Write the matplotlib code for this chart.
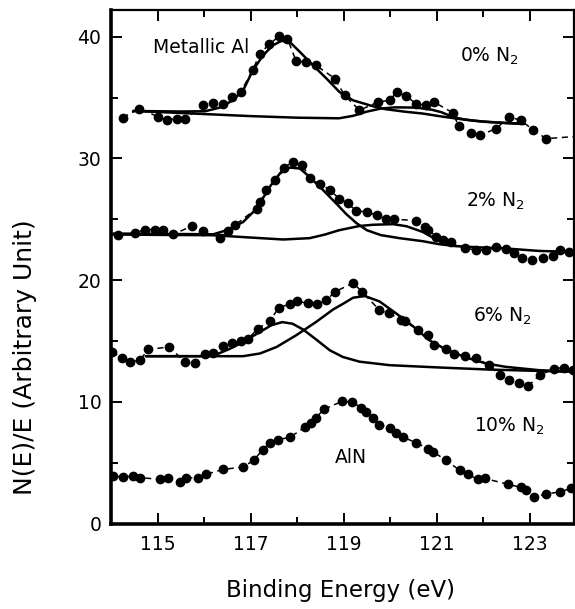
import matplotlib
matplotlib.use("Agg")
import matplotlib.pyplot as plt
from matplotlib.ticker import FixedLocator

# ---------------- data ----------------
# 0% N2
x0 = [114.25, 114.61, 115.02, 115.20, 115.41, 115.59, 115.97, 116.20, 116.41, 116.59,
      116.79, 117.05, 117.20, 117.40, 117.61, 117.79, 117.98, 118.18, 118.40, 118.81,
      119.02, 119.34, 119.74, 119.99, 120.14, 120.35, 120.55, 120.76, 120.94, 121.35,
      121.47, 121.74, 121.93, 122.28, 122.55, 122.81, 123.06, 123.35, 124.15]
y0 = [33.36, 34.10, 33.41, 33.14, 33.28, 33.22, 34.37, 34.56, 34.45, 35.05,
      35.47, 37.30, 38.62, 39.38, 40.04, 39.85, 37.99, 37.93, 37.66, 36.57,
      35.19, 33.96, 34.64, 34.78, 35.46, 35.11, 34.51, 34.37, 34.64, 33.74,
      32.65, 32.10, 31.90, 32.46, 33.41, 33.14, 32.37, 31.63, 31.85]

# 2% N2
x2 = [114.16, 114.52, 114.73, 114.94, 115.12, 115.34, 115.73, 115.98, 116.34, 116.52,
      116.66, 117.13, 117.20, 117.34, 117.52, 117.71, 117.91, 118.11, 118.27, 118.50,
      118.70, 118.91, 119.09, 119.27, 119.50, 119.72, 119.90, 120.08, 120.56, 120.74,
      120.82, 120.99, 121.13, 121.31, 121.60, 121.85, 122.06, 122.28, 122.49, 122.65,
      122.83, 123.04, 123.28, 123.49, 123.64, 123.85]
y2 = [23.69, 23.88, 24.16, 24.16, 24.10, 23.77, 24.43, 24.04, 23.50, 24.04,
      24.51, 25.88, 26.43, 27.39, 28.21, 29.25, 29.71, 29.44, 28.43, 27.94,
      27.39, 26.70, 26.30, 25.70, 25.60, 25.33, 25.02, 25.00, 24.90, 24.40,
      24.16, 23.55, 23.28, 23.14, 22.60, 22.50, 22.46, 22.70, 22.55, 22.19,
      21.84, 21.69, 21.84, 22.00, 22.46, 22.32]

# 6% N2
x6 = [114.02, 114.23, 114.41, 114.62, 114.80, 115.25, 115.59, 115.80, 116.02, 116.20,
      116.41, 116.59, 116.80, 116.95, 117.16, 117.41, 117.61, 117.84, 118.00, 118.23,
      118.43, 118.63, 118.81, 119.20, 119.40, 119.77, 119.97, 120.24, 120.31, 120.60,
      120.81, 120.95, 121.20, 121.38, 121.60, 121.85, 122.13, 122.35, 122.56, 122.76,
      122.96, 123.21, 123.53, 123.74, 123.92]
y6 = [14.10, 13.64, 13.28, 13.42, 14.30, 14.51, 13.28, 13.15, 13.91, 14.02,
      14.57, 14.84, 15.00, 15.20, 16.02, 16.65, 17.75, 18.02, 18.29, 18.08,
      18.02, 18.35, 19.03, 19.77, 19.03, 17.53, 17.26, 16.76, 16.65, 15.88,
      15.47, 14.65, 14.30, 13.97, 13.75, 13.56, 13.01, 12.20, 11.83, 11.55,
      11.28, 12.19, 12.73, 12.82, 12.65]

# 10% N2
x10 = [114.05, 114.26, 114.48, 114.62, 115.05, 115.23, 115.48, 115.62, 115.87, 116.05,
       116.41, 116.84, 117.07, 117.26, 117.41, 117.59, 117.84, 118.16, 118.29, 118.41,
       118.57, 118.97, 119.17, 119.38, 119.49, 119.63, 119.77, 120.00, 120.13, 120.27,
       120.56, 120.81, 120.92, 121.20, 121.49, 121.67, 121.88, 122.03, 122.53, 122.81,
       122.92, 123.08, 123.35, 123.64, 123.89]
y10 = [3.89, 3.83, 3.89, 3.78, 3.62, 3.70, 3.42, 3.75, 3.78, 4.05,
       4.44, 4.65, 5.20, 6.08, 6.62, 6.90, 7.07, 7.89, 8.22, 8.71,
       9.37, 10.05, 9.99, 9.53, 9.17, 8.71, 8.13, 7.81, 7.40, 7.12,
       6.62, 6.16, 5.89, 5.20, 4.38, 4.05, 3.62, 3.70, 3.23, 2.96,
       2.74, 2.19, 2.41, 2.60, 2.88]

# fitted components (baseline + peak)
f0a_x = [114.48, 115.0, 115.5, 116.02, 116.34, 116.62, 116.84, 117.05, 117.27, 117.48,
         117.66, 117.84, 118.06, 118.34, 118.63, 118.91, 119.2, 119.63, 119.9, 120.3,
         120.7, 121.1, 121.42, 121.8, 122.13, 122.5, 122.88]
f0a_y = [33.9, 33.88, 33.86, 33.88, 34.18, 34.78, 35.6, 37.25, 38.48, 39.3,
         39.66, 39.58, 38.75, 37.66, 36.57, 35.46, 34.78, 34.29, 34.05, 33.85,
         33.69, 33.45, 33.28, 33.1, 33.0, 32.92, 32.85]
f0b_x = [114.48, 115.0, 116.0, 117.0, 118.0, 118.9, 119.2, 119.5, 119.8, 120.1,
         120.56, 120.9, 121.1, 121.35, 121.6, 122.0, 122.5, 122.88]
f0b_y = [33.9, 33.82, 33.65, 33.48, 33.35, 33.3, 33.5, 33.85, 34.1, 34.2,
         34.18, 34.0, 33.8, 33.4, 33.2, 33.02, 32.9, 32.83]

f2a_x = [114.05, 115.0, 116.2, 116.48, 116.84, 117.13, 117.41, 117.63, 117.84, 118.06,
         118.27, 118.56, 118.84, 119.05, 119.27, 119.5, 119.8, 120.2, 120.7, 121.06,
         121.42, 122.0, 122.49, 123.2, 123.96]
f2a_y = [23.83, 23.8, 23.77, 24.1, 24.78, 25.88, 27.66, 28.76, 29.25, 29.17,
         28.48, 27.39, 26.3, 25.45, 24.7, 24.1, 23.7, 23.45, 23.2, 22.95,
         22.79, 22.68, 22.6, 22.4, 22.32]
f2b_x = [114.05, 115.0, 116.2, 117.0, 117.7, 118.27, 118.6, 118.9, 119.34, 119.63,
         120.06, 120.35, 120.7, 120.99, 121.2, 121.42]
f2b_y = [23.75, 23.72, 23.69, 23.5, 23.34, 23.45, 23.75, 24.1, 24.45, 24.55,
         24.6, 24.43, 23.96, 23.34, 23.0, 22.82]

f6a_x = [114.75, 115.91, 116.27, 116.55, 116.84, 117.2, 117.45, 117.68, 117.9, 118.13,
         118.41, 118.7, 118.98, 119.34, 119.99, 121.06, 122.13, 123.2, 123.96]
f6a_y = [13.75, 13.75, 13.9, 14.35, 14.92, 15.74, 16.3, 16.55, 16.42, 15.94,
         15.12, 14.24, 13.69, 13.3, 13.01, 12.82, 12.65, 12.54, 12.46]
f6b_x = [114.75, 115.91, 116.84, 117.2, 117.56, 117.98, 118.41, 118.77, 119.02, 119.2,
         119.45, 119.77, 120.13, 120.49, 120.84, 121.2, 121.63, 122.06, 122.49, 123.2, 123.96]
f6b_y = [13.75, 13.75, 13.75, 13.97, 14.51, 15.47, 16.57, 17.58, 18.13, 18.55,
         18.7, 18.25, 17.26, 16.21, 15.06, 14.3, 13.64, 13.15, 12.87, 12.6, 12.47]

x_major = [115, 117, 119, 121, 123]
x_minor = [116, 118, 120, 122]
y_major = [0, 10, 20, 30, 40]
y_minor = [5, 15, 25, 35]

labels = ["0% N$_2$", "2% N$_2$", "6% N$_2$", "10% N$_2$"]

# ---------------- figure ----------------
fig = plt.figure(figsize=(5.75, 6.09), dpi=100)
ax = fig.add_axes([111 / 575, 1 - 523.5 / 609, 463 / 575, (523.5 - 10) / 609])

for xs, ys in [(x0, y0), (x2, y2), (x6, y6), (x10, y10)]:
    ax.plot(xs, ys, color="black", lw=1.1, ls=(0, (4, 3)),
            marker="o", ms=6, mfc="black", mec="black", zorder=3)

for xs, ys in [(f0a_x, f0a_y), (f0b_x, f0b_y), (f2a_x, f2a_y), (f2b_x, f2b_y),
               (f6a_x, f6a_y), (f6b_x, f6b_y)]:
    ax.plot(xs, ys, color="black", lw=1.8, solid_capstyle="round", zorder=2)

ax.set_xlim(114.0, 123.95)
ax.set_ylim(0, 42.2)
ax.xaxis.set_major_locator(FixedLocator(x_major))
ax.xaxis.set_minor_locator(FixedLocator(x_minor))
ax.yaxis.set_major_locator(FixedLocator(y_major))
ax.yaxis.set_minor_locator(FixedLocator(y_minor))
ax.tick_params(which="both", direction="in", top=True, right=True,
               width=1.4, labelsize=13.5, color="black")
ax.tick_params(which="major", length=8, pad=7)
ax.tick_params(axis="x", which="major", pad=8)
ax.tick_params(which="minor", length=5)
for side in ["left", "bottom"]:
    ax.spines[side].set_linewidth(2.6)
for side in ["top", "right"]:
    ax.spines[side].set_linewidth(1.6)

fs_ann = 13.5
ax.text(114.91, 38.7, "Metallic Al", fontsize=fs_ann, ha="left", va="baseline")
ax.text(121.49, 37.93, labels[0], fontsize=fs_ann, ha="left", va="baseline")
ax.text(121.63, 26.07, labels[1], fontsize=fs_ann, ha="left", va="baseline")
ax.text(121.78, 16.57, labels[2], fontsize=fs_ann, ha="left", va="baseline")
ax.text(121.81, 7.53, labels[3], fontsize=fs_ann, ha="left", va="baseline")
ax.text(118.81, 4.98, "AlN", fontsize=fs_ann, ha="left", va="baseline")

fig.text(340 / 575, 1 - 590 / 609, "Binding Energy (eV)", fontsize=16.5,
         ha="center", va="center")
fig.text(25 / 575, 1 - 357 / 609, "N(E)/E (Arbitrary Unit)", fontsize=18,
         ha="center", va="center", rotation=90)

fig.savefig("out.png", dpi=100, facecolor="white")
